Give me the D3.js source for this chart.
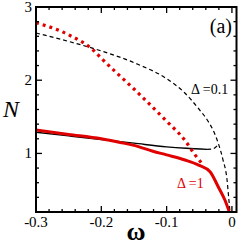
<!DOCTYPE html>
<html>
<head>
<meta charset="UTF-8">
<title>N vs omega</title>
<script src="https://cdn.jsdelivr.net/npm/d3@7"></script>
<style>
  body { margin: 0; background: #fff; }
</style>
</head>
<body>
<div id="chart"></div>
<script>
// data
var blackDashW = [-0.3, -0.25, -0.2, -0.15, -0.1, -0.075, -0.05, -0.038, -0.029, -0.021, -0.0136, -0.0075, -0.005, -0.003];
var blackDashN = [2.645, 2.53, 2.40, 2.24, 2.02, 1.85, 1.60, 1.46, 1.32, 1.14, 0.91, 0.64, 0.40, 0.2];

var blackHookW = [-0.038, -0.03, -0.025, -0.021];
var blackHookN = [1.055, 1.06, 1.085, 1.12];

var blackSolidW = [-0.3, -0.25, -0.2, -0.15, -0.1, -0.07, -0.038];
var blackSolidN = [1.29, 1.24, 1.19, 1.14, 1.09, 1.07, 1.055];

var redDotW = [-0.3, -0.25, -0.211, -0.2, -0.15, -0.1, -0.072, -0.0565, -0.046];
var redDotN = [2.785, 2.62, 2.40, 2.30, 1.88, 1.44, 1.18, 0.98, 0.865];

var redSolidW = [-0.3, -0.25, -0.2, -0.171, -0.15, -0.121, -0.1, -0.072, -0.051, -0.0335, -0.021, -0.0106, -0.004];
var redSolidN = [1.32, 1.26, 1.20, 1.15, 1.11, 1.03, 0.98, 0.91, 0.84, 0.75, 0.545, 0.36, 0.2];

var xTicks = [-0.3, -0.2, -0.1, 0];
var xTickLabels = ["-0.3", "-0.2", "-0.1", "0"];
var yTicks = [1, 2, 3];
var yTickLabels = ["1", "2", "3"];

var W = 240, H = 245;
// plot box (don't call these top/left: window.top is read-only)
var pL = 36, pR = 236.5, pT = 7, pB = 212;
var serif = "'Liberation Serif', 'Times New Roman', 'DejaVu Serif', serif";

var x = d3.scaleLinear().domain([-0.3, 0.007]).range([pL, pR]);
var y = d3.scaleLinear().domain([0.2, 3]).range([pB, pT]);

var svg = d3.select("#chart").append("svg")
            .attr("width", W)
            .attr("height", H)
            .attr("font-family", serif);

svg.append("clipPath").attr("id", "clip")
   .append("rect")
   .attr("x", pL).attr("y", pT)
   .attr("width", pR - pL).attr("height", pB - pT);

function pairs(ws, ns) {
  return ws.map(function (w, i) { return [w, ns[i]]; });
}

var line = d3.line()
             .x(function (d) { return x(d[0]); })
             .y(function (d) { return y(d[1]); })
             .curve(d3.curveMonotoneX);

var plot = svg.append("g").attr("clip-path", "url(#clip)");

var series = [
  { pts: pairs(blackSolidW, blackSolidN), color: "#000", width: 1.4, dash: null },
  { pts: pairs(blackDashW, blackDashN), color: "#000", width: 1.2, dash: "4,3" },
  { pts: pairs(blackHookW, blackHookN), color: "#000", width: 1.2, dash: "4,3" },
  { pts: pairs(redSolidW, redSolidN), color: "#e00000", width: 3, dash: null },
  { pts: pairs(redDotW, redDotN), color: "#e00000", width: 3.2, dash: "3,4" }
];

plot.selectAll("path")
    .data(series)
    .enter()
    .append("path")
    .attr("d", function (d) { return line(d.pts); })
    .attr("fill", "none")
    .attr("stroke", function (d) { return d.color; })
    .attr("stroke-width", function (d) { return d.width; })
    .attr("stroke-dasharray", function (d) { return d.dash; });

// inward ticks on all four sides (minor 0.02 in x, 0.2 in y)
var xMinor = d3.range(-0.3, 0.0001, 0.02);
var yMinor = d3.range(0.2, 3.0001, 0.2);

function isMajorX(v) { return xTicks.some(function (t) { return Math.abs(t - v) < 1e-6; }); }
function isMajorY(v) { return yTicks.some(function (t) { return Math.abs(t - v) < 1e-6; }); }

var ticks = svg.append("g").attr("stroke", "#000").attr("stroke-width", 1.3);

xMinor.forEach(function (v) {
  var len = isMajorX(v) ? 6 : 3;
  ticks.append("line").attr("x1", x(v)).attr("x2", x(v)).attr("y1", pB).attr("y2", pB - len);
  ticks.append("line").attr("x1", x(v)).attr("x2", x(v)).attr("y1", pT).attr("y2", pT + len);
});
yMinor.forEach(function (v) {
  var len = isMajorY(v) ? 6 : 3;
  ticks.append("line").attr("y1", y(v)).attr("y2", y(v)).attr("x1", pL).attr("x2", pL + len);
  ticks.append("line").attr("y1", y(v)).attr("y2", y(v)).attr("x1", pR).attr("x2", pR - len);
});

svg.append("rect")
   .attr("x", pL).attr("y", pT)
   .attr("width", pR - pL).attr("height", pB - pT)
   .attr("fill", "none")
   .attr("stroke", "#000")
   .attr("stroke-width", 2);

svg.selectAll(".xl")
   .data(xTicks)
   .enter()
   .append("text")
   .attr("x", function (d) { return x(d); })
   .attr("y", 227)
   .attr("text-anchor", "middle")
   .attr("font-size", 15)
   .text(function (d, i) { return xTickLabels[i]; });

svg.selectAll(".yl")
   .data(yTicks)
   .enter()
   .append("text")
   .attr("x", 32)
   .attr("y", function (d) { return y(d) + 5; })
   .attr("text-anchor", "end")
   .attr("font-size", 15)
   .text(function (d, i) { return yTickLabels[i]; });

svg.append("text")
   .attr("x", 11).attr("y", 109)
   .attr("text-anchor", "middle")
   .attr("dominant-baseline", "central")
   .attr("font-size", 24)
   .attr("font-style", "italic")
   .text("N");

svg.append("text")
   .attr("x", 136).attr("y", 240)
   .attr("text-anchor", "middle")
   .attr("font-size", 26)
   .attr("font-weight", "bold")
   .text("ω");

svg.append("text")
   .attr("x", 232).attr("y", 33)
   .attr("text-anchor", "end")
   .attr("font-size", 20)
   .text("(a)");

svg.append("text")
   .attr("x", 191).attr("y", 94)
   .attr("font-size", 14)
   .attr("fill", "#000")
   .text("Δ =0.1");

svg.append("text")
   .attr("x", 177).attr("y", 188)
   .attr("font-size", 14)
   .attr("fill", "#e00000")
   .text("Δ =1");
</script>
</body>
</html>
